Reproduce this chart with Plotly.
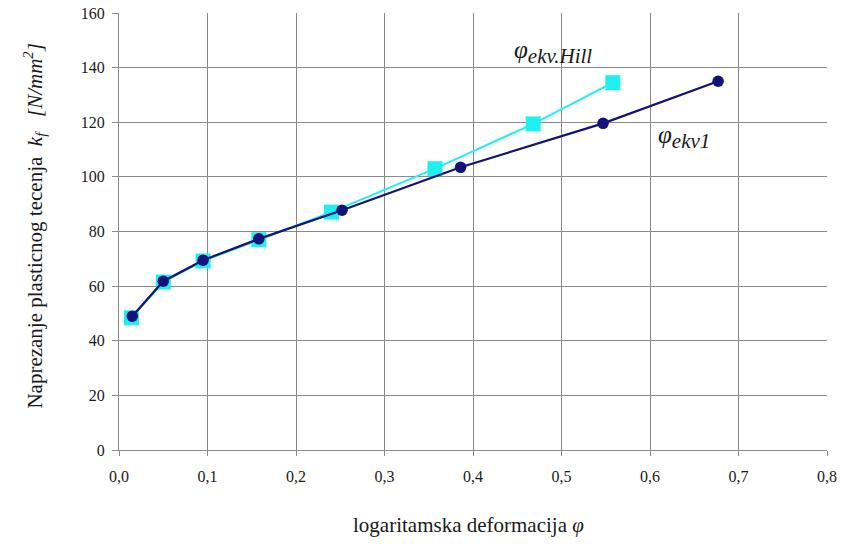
import plotly.graph_objects as go

# Data
phi_ekv1 = [0.015, 0.050, 0.095, 0.158, 0.252, 0.386, 0.547, 0.677]
kf_ekv1 = [49.0, 61.8, 69.5, 77.3, 87.8, 103.5, 119.6, 135.0]

phi_hill = [0.014, 0.050, 0.095, 0.158, 0.240, 0.357, 0.468, 0.558]
kf_hill = [48.4, 61.5, 69.2, 77.0, 87.1, 103.0, 119.4, 134.5]

x_ticks = [0.0, 0.1, 0.2, 0.3, 0.4, 0.5, 0.6, 0.7, 0.8]
y_ticks = [0, 20, 40, 60, 80, 100, 120, 140, 160]

FONT = "Liberation Serif"
NAVY = "#12127a"
CYAN = "#1ef0f0"
TXT = "#1a1a1a"

fig = go.Figure()
fig.add_trace(go.Scatter(
    x=phi_hill, y=kf_hill, mode="lines+markers",
    line=dict(color=CYAN, width=2),
    marker=dict(symbol="square", size=15, color=CYAN),
    showlegend=False, cliponaxis=False,
))
fig.add_trace(go.Scatter(
    x=phi_ekv1, y=kf_ekv1, mode="lines+markers",
    line=dict(color=NAVY, width=2.2),
    marker=dict(symbol="circle", size=11.5, color=NAVY),
    showlegend=False, cliponaxis=False,
))

fig.add_annotation(x=0.444, y=145.8, xref="x", yref="y",
                   text="<i>φ</i><sub><span style='font-size:21px'><i>ekv.Hill</i></span></sub>",
                   showarrow=False, xanchor="left", yanchor="middle",
                   font=dict(family=FONT, size=25, color=TXT))
fig.add_annotation(x=0.607, y=114.5, xref="x", yref="y",
                   text="<i>φ</i><sub><span style='font-size:21px'><i>ekv1</i></span></sub>",
                   showarrow=False, xanchor="left", yanchor="middle",
                   font=dict(family=FONT, size=25, color=TXT))

# axis titles as annotations for exact placement
fig.add_annotation(x=0.494, y=-0.172, xref="paper", yref="paper",
                   text="logaritamska deformacija <i>φ</i>",
                   showarrow=False, xanchor="center", yanchor="middle",
                   font=dict(family=FONT, size=21, color=TXT))
fig.add_annotation(x=-0.119, y=0.513, xref="paper", yref="paper",
                   text="Naprezanje plasticnog tecenja  <i>k<sub>f</sub></i>   <i>[N/mm<sup>2</sup>]</i>",
                   showarrow=False, textangle=-90, xanchor="center", yanchor="middle",
                   font=dict(family=FONT, size=21, color=TXT))

fig.update_layout(
    width=841, height=544,
    margin=dict(l=119, r=14, t=13, b=94, autoexpand=False),
    paper_bgcolor="white", plot_bgcolor="white",
    separators=",.",
    font=dict(family=FONT, size=16, color=TXT),
)
fig.update_xaxes(
    range=[0, 0.8], tickvals=x_ticks, tickformat=".1f",
    showgrid=True, gridcolor="#8a8a8a", gridwidth=1,
    showline=True, linecolor="#8a8a8a", linewidth=1,
    ticks="outside", ticklen=5, tickcolor="#8a8a8a",
    ticklabelstandoff=7,
    zeroline=False, automargin=False,
    tickfont=dict(family=FONT, size=16, color=TXT),
)
fig.update_yaxes(
    range=[0, 160], tickvals=y_ticks,
    showgrid=True, gridcolor="#8a8a8a", gridwidth=1,
    showline=True, linecolor="#8a8a8a", linewidth=1,
    ticks="outside", ticklen=6, tickcolor="#8a8a8a",
    ticklabelstandoff=4,
    zeroline=False, automargin=False,
    tickfont=dict(family=FONT, size=16, color=TXT),
)

fig.write_html("out.html", config={"displayModeBar": False},
               post_script="document.body.style.margin='0';document.body.style.padding='0';")
